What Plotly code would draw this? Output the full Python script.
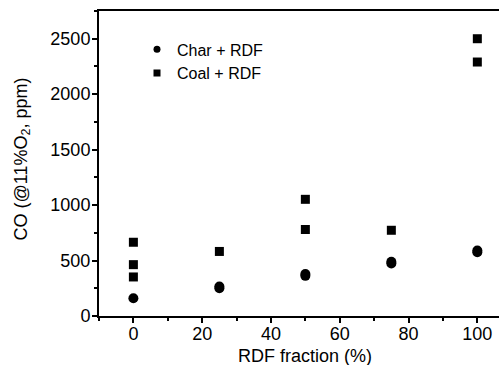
import plotly.graph_objects as go

# RDF fraction in the fuel blend (%) and measured CO (ppm, corrected to 11% O2)
char_rdf_x = [0, 25, 25, 50, 50, 75, 75, 100, 100]
char_rdf_co = [160, 250, 266, 362, 378, 473, 489, 575, 591]

coal_rdf_x = [0, 0, 0, 25, 50, 50, 75, 100, 100]
coal_rdf_co = [665, 463, 352, 582, 1052, 780, 773, 2500, 2290]

x_ticks = [0, 20, 40, 60, 80, 100]
y_ticks = [0, 500, 1000, 1500, 2000, 2500]

FONT = "Liberation Sans, Arial, sans-serif"

fig = go.Figure()

fig.add_trace(go.Scatter(
    x=char_rdf_x, y=char_rdf_co, mode="markers", showlegend=False,
    marker=dict(symbol="circle", size=10, color="black"),
))
fig.add_trace(go.Scatter(
    x=coal_rdf_x, y=coal_rdf_co, mode="markers", showlegend=False,
    marker=dict(symbol="square", size=9, color="black"),
))

# legend entries with smaller symbols
fig.add_trace(go.Scatter(
    x=[None], y=[None], mode="markers", name="Char + RDF",
    marker=dict(symbol="circle", size=7, color="black"),
))
fig.add_trace(go.Scatter(
    x=[None], y=[None], mode="markers", name="Coal + RDF",
    marker=dict(symbol="square", size=7, color="black"),
))

axis_common = dict(
    showgrid=False, zeroline=False,
    showline=True, linecolor="black", linewidth=2,
    ticks="outside", ticklen=5, tickwidth=1.5, tickcolor="black",
    tickfont=dict(family=FONT, size=18, color="black"),
)

fig.update_xaxes(
    range=[-10, 106.3], tickvals=x_ticks, mirror=True, ticklabelstandoff=-5,
    minor=dict(dtick=10, tick0=0, ticks="outside", ticklen=3, tickwidth=1.5, tickcolor="black"),
    **axis_common,
)
fig.update_yaxes(
    range=[0, 2750], tickvals=y_ticks, ticklabelstandoff=-2,
    minor=dict(dtick=250, tick0=0, ticks="outside", ticklen=3, tickwidth=1.5, tickcolor="black"),
    **axis_common,
)

# axis titles
fig.add_annotation(
    x=50, xref="x", y=0, yref="paper", yshift=-28,
    text="RDF fraction (%)", showarrow=False, yanchor="top",
    font=dict(family=FONT, size=18, color="black"),
)
fig.add_annotation(
    x=0, xref="paper", xshift=-77, y=0.5, yref="paper", yshift=4,
    text="CO (@11%O<sub>2</sub>, ppm)", showarrow=False, textangle=-90,
    xanchor="center", yanchor="middle",
    font=dict(family=FONT, size=18, color="black"),
)

fig.update_layout(
    width=499, height=365,
    margin=dict(l=99, r=0, t=11, b=49),
    paper_bgcolor="white", plot_bgcolor="white",
    legend=dict(
        x=0.095, y=0.93, xanchor="left", yanchor="top",
        bgcolor="rgba(0,0,0,0)", borderwidth=0,
        font=dict(family=FONT, size=16, color="black"),
        tracegroupgap=0,
    ),
)

fig.write_html("out.html")
